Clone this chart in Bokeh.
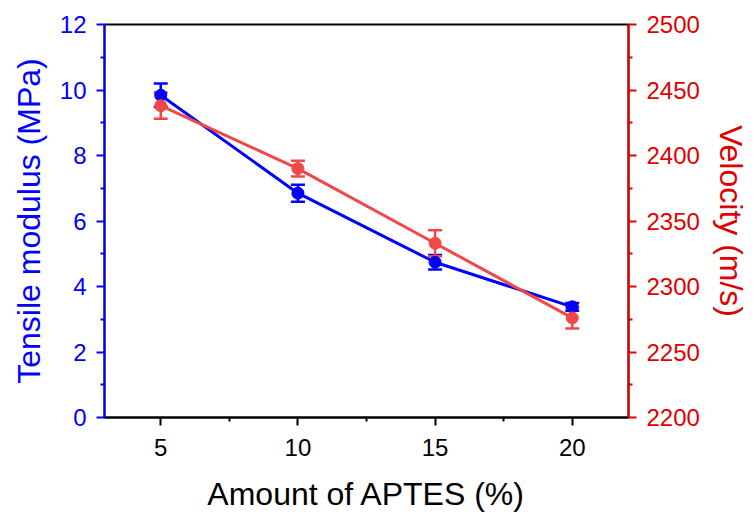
from bokeh.plotting import figure
from bokeh.models import Range1d, LinearAxis, Whisker, ColumnDataSource, TeeHead, FixedTicker
from bokeh.embed import file_html
from bokeh.resources import INLINE

amount = [5, 10, 15, 20]
modulus = [9.84, 6.85, 4.74, 3.38]
modulus_err = [0.36, 0.26, 0.22, 0.12]
velocity = [2438, 2390, 2333, 2276]
velocity_err = [10, 6, 10, 8]

BLUE = "#0000ff"
RED_LINE = "#f04848"
RED_AX = "#e00000"
FONT = "Liberation Sans"

p = figure(width=753, height=517, output_backend="svg", toolbar_location=None,
           x_range=Range1d(2.95, 22.05), y_range=Range1d(0, 12),
           min_border_left=104, min_border_right=125, min_border_top=24, min_border_bottom=100)
p.extra_y_ranges = {"v": Range1d(2200, 2500)}
p.grid.visible = False
p.outline_line_color = "black"
p.outline_line_width = 2
p.background_fill_color = "white"
p.border_fill_color = "white"

def style(ax, color, label):
    ax.axis_label = label
    ax.axis_line_color = color
    ax.axis_line_width = 2
    ax.major_tick_line_color = color
    ax.minor_tick_line_color = color
    ax.major_tick_line_width = 2
    ax.minor_tick_line_width = 2
    ax.major_tick_in = 0
    ax.major_tick_out = 8
    ax.minor_tick_in = 0
    ax.minor_tick_out = 4
    ax.major_label_text_color = color
    ax.axis_label_text_color = color
    ax.major_label_text_font = FONT
    ax.axis_label_text_font = FONT
    ax.major_label_text_font_size = "24px"
    ax.axis_label_text_font_size = "32px"
    ax.axis_label_text_font_style = "normal"

xa = p.xaxis[0]
style(xa, "black", "Amount of APTES (%)")
xa.ticker = FixedTicker(ticks=[5, 10, 15, 20], minor_ticks=[7.5, 12.5, 17.5])
xa.major_label_standoff = 13
xa.axis_label_standoff = 17

ya = p.yaxis[0]
style(ya, BLUE, "Tensile modulus (MPa)")
ya.ticker = FixedTicker(ticks=[0, 2, 4, 6, 8, 10, 12], minor_ticks=[1, 3, 5, 7, 9, 11])
ya.major_label_standoff = 10
ya.axis_label_standoff = 10

ra = LinearAxis(y_range_name="v")
style(ra, RED_AX, "Velocity (m/s)")
ra.ticker = FixedTicker(ticks=[2200, 2250, 2300, 2350, 2400, 2450, 2500],
                        minor_ticks=[2225, 2275, 2325, 2375, 2425, 2475])
ra.major_label_standoff = 10
ra.axis_label_standoff = 10
p.add_layout(ra, "right")

src_m = ColumnDataSource(dict(x=amount, y=modulus,
                              lo=[m - e for m, e in zip(modulus, modulus_err)],
                              hi=[m + e for m, e in zip(modulus, modulus_err)]))
src_v = ColumnDataSource(dict(x=amount, y=velocity,
                              lo=[v - e for v, e in zip(velocity, velocity_err)],
                              hi=[v + e for v, e in zip(velocity, velocity_err)]))

p.line("x", "y", source=src_m, line_color=BLUE, line_width=3)
wm = Whisker(base="x", upper="hi", lower="lo", source=src_m, line_color=BLUE, line_width=2.5,
             upper_head=TeeHead(size=14, line_color=BLUE, line_width=2.5),
             lower_head=TeeHead(size=14, line_color=BLUE, line_width=2.5))
p.add_layout(wm)
p.scatter("x", "y", source=src_m, size=12, fill_color=BLUE, line_color=BLUE)

p.line("x", "y", source=src_v, y_range_name="v", line_color=RED_LINE, line_width=3)
wv = Whisker(base="x", upper="hi", lower="lo", source=src_v, y_range_name="v",
             line_color=RED_LINE, line_width=2.5,
             upper_head=TeeHead(size=14, line_color=RED_LINE, line_width=2.5),
             lower_head=TeeHead(size=14, line_color=RED_LINE, line_width=2.5))
p.add_layout(wv)
p.scatter("x", "y", source=src_v, y_range_name="v", size=12,
          fill_color=RED_LINE, line_color=RED_LINE)

open("out.html", "w").write(file_html(p, INLINE))
